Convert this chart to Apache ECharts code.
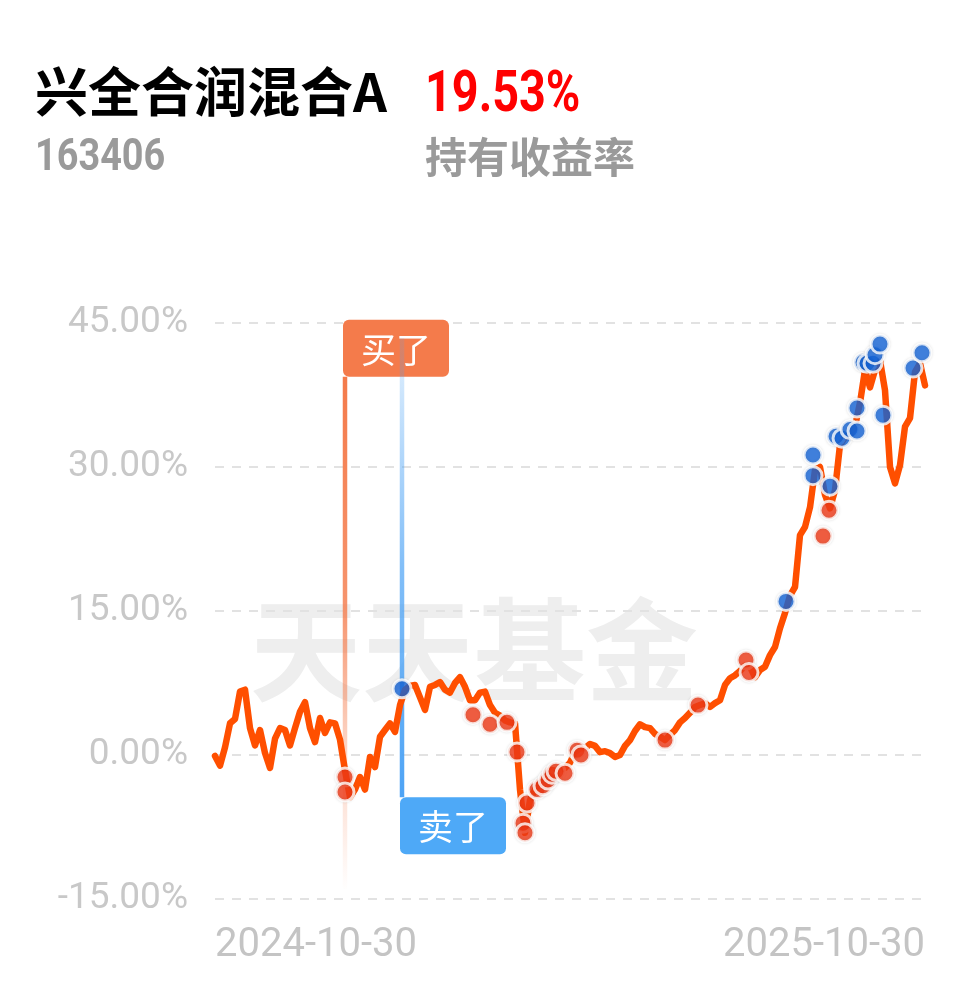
<!DOCTYPE html>
<html>
<head>
<meta charset="utf-8">
<script src="https://cdn.jsdelivr.net/npm/echarts@6/dist/echarts.min.js"></script>
<style>
html,body{margin:0;padding:0;background:#fff;}
#c{width:978px;height:986px;}
</style>
</head>
<body>
<div id="c"></div>
<script>
// ---- data ----
const tickLabels = ['2024-10-30', '2025-10-30'];
const yMin = -15, yMax = 45, yStep = 15;
const fundName = '兴全合润混合A';
const fundCode = '163406';
const holdReturn = '19.53%';
const holdReturnLabel = '持有收益率';
const watermark = '天天基金';

// cumulative return (%) per sampled trading day
const returns = [
  -0.1, -1.1, 0.8, 3.3, 3.75, 6.6, 6.8, 2.8, 1.0, 2.6,
  0.2, -1.35, 1.7, 2.8, 2.6, 1.0, 2.8, 4.5, 5.5, 2.8,
  1.35, 3.85, 2.3, 3.4, 3.3, 1.6, -1.6, -4.4, -3.6, -2.3,
  -3.6, -0.2, -1.25, 1.9, 2.6, 3.3, 2.4, 5.2, 6.8, 7.2,
  7.3, 6.0, 4.7, 7.1, 7.3, 7.6, 6.8, 6.5, 7.5, 8.1,
  7.1, 5.7, 5.7, 6.5, 6.6, 5.2, 4.4, 4.1, 3.6, 3.4,
  3.3, -3.6, -8.1, -4.7, -3.6, -2.9, -2.6, -1.8, -1.35, -1.55,
  -1.35, -0.8, 0.3, 0.7, 0.7, 1.15, 0.95, 0.3, 0.4, 0.2,
  -0.2, 0.0, 0.95, 1.55, 2.5, 3.2, 2.9, 2.8, 2.2, 1.9,
  1.55, 2.1, 2.6, 3.4, 3.85, 4.4, 5.0, 5.2, 5.4, 5.0,
  5.4, 5.7, 7.3, 8.0, 8.3, 8.75, 9.3, 9.2, 8.1, 8.85,
  9.2, 10.4, 11.25, 13.2, 14.8, 16.6, 17.5, 22.9, 23.75, 25.8,
  29.7, 30.0, 27.1, 25.7, 27.6, 32.3, 33.1, 33.3, 34.2, 36.7,
  40.1, 38.3, 40.1, 41.1, 38.0, 30.0, 28.3, 30.2, 34.2, 35.1,
  39.9, 40.8, 38.5
];

// buy points [day index, return %]
const buyPoints = [
  [26, -2.3], [26, -3.85], [51.6, 4.2], [55, 3.2], [58.4, 3.4], [60.4, 0.3],
  [62.4, -5.0], [61.6, -7.1], [62, -8.1], [64.4, -3.6], [65.6, -3.2], [66.6, -2.6],
  [67.4, -2.0], [68.2, -1.7], [70, -1.9], [72.4, 0.5], [73.2, 0.0], [90, 1.55],
  [96.6, 5.2], [106.2, 9.9], [106.8, 8.6], [121.6, 22.8], [122.8, 25.5]
];
// sell points [day index, return %]
const sellPoints = [
  [37.4, 6.9], [114.2, 16.0], [119.6, 31.25], [119.6, 29.1], [123, 28.0],
  [124.2, 33.2], [125.4, 33.0], [127, 33.9], [128.4, 33.75], [128.4, 36.15],
  [129.6, 40.9], [130.4, 40.8], [131.6, 40.8], [132, 41.7], [133, 42.8],
  [133.6, 35.4], [139.6, 40.3], [141.4, 41.9]
];
// marker flags: [day index, top value, bottom value]
const buyFlag = [26, 39.4, -14.0];
const sellFlag = [37.4, 43.4, -4.4];
const flagTexts = ['买了', '卖了'];

// ---- chart ----
const chart = echarts.init(document.getElementById('c'), null, {renderer: 'canvas'});
const lastIdx = returns.length - 1;
const lineData = returns.map((v, i) => [i, v]);

function flagSeries(flag, text, color, isBuy) {
  return {
    type: 'custom',
    z: 5,
    silent: true,
    data: [[flag[0], isBuy ? flag[1] : flag[2]]],
    renderItem: function (params, api) {
      const p = api.coord([api.value(0), api.value(1)]);
      const w = 106, h = 57;
      const x = p[0] - 2;
      const y = isBuy ? p[1] - h : p[1];
      return {
        type: 'group',
        children: [
          {type: 'rect', shape: {x: x, y: y, width: w, height: h, r: 6}, style: {fill: color}},
          {type: 'text', style: {text: text, x: x + w / 2, y: y + h / 2 + 1, align: 'center', verticalAlign: 'middle',
            fill: '#fff', fontSize: 35, fontFamily: 'Noto Sans CJK SC'}}
        ]
      };
    }
  };
}

const option = {
  animation: false,
  backgroundColor: '#fff',
  grid: {left: 215, right: 53, top: 323, bottom: 87},
  xAxis: {
    type: 'value', min: 0, max: lastIdx, interval: lastIdx,
    axisLine: {show: false}, axisTick: {show: false}, splitLine: {show: false},
    axisLabel: {
      margin: 27, color: '#c4c4c4', fontSize: 40, fontFamily: 'Roboto',
      alignMinLabel: 'left', alignMaxLabel: 'right',
      formatter: v => v === 0 ? tickLabels[0] : tickLabels[1]
    }
  },
  yAxis: {
    type: 'value', min: yMin, max: yMax, interval: yStep,
    axisLine: {show: false}, axisTick: {show: false},
    splitLine: {lineStyle: {color: '#e2e2e2', type: [9, 8], width: 2}},
    axisLabel: {margin: 27, color: '#c8c8c8', fontSize: 37, fontFamily: 'Roboto',
      formatter: v => v.toFixed(2) + '%'}
  },
  graphic: [
    {type: 'text', z: 0, left: 250, top: 594, style: {text: watermark, fontSize: 112, fontWeight: 'bold',
      fontFamily: 'Noto Sans CJK SC', fill: '#eeeeee', letterSpacing: 14}},
    {type: 'text', left: 35, top: 65, style: {text: fundName, fontSize: 53, fontWeight: 'bold',
      fontFamily: 'Noto Sans CJK SC', fill: '#000', letterSpacing: 1}},
    {type: 'text', left: 425, top: 68, scaleX: 0.82, style: {text: holdReturn, fontSize: 57, fontWeight: 'bold',
      fontFamily: 'Roboto', fill: '#f00'}},
    {type: 'text', left: 35, top: 137, scaleX: 0.86, style: {text: fundCode, fontSize: 44, fontWeight: 'bold',
      fontFamily: 'Roboto', fill: '#9a9a9a'}},
    {type: 'text', left: 425, top: 136, style: {text: holdReturnLabel, fontSize: 42, fontWeight: 'bold',
      fontFamily: 'Noto Sans CJK SC', fill: '#9a9a9a'}}
  ],
  series: [
    {
      type: 'line', z: 1, silent: true, symbol: 'none',
      data: [[buyFlag[0], buyFlag[1]], [buyFlag[0], buyFlag[2]]],
      lineStyle: {width: 4.5, color: new echarts.graphic.LinearGradient(0, 0, 0, 1, [
        {offset: 0, color: 'rgba(244,122,74,1)'},
        {offset: 0.45, color: 'rgba(244,122,74,0.8)'},
        {offset: 0.7, color: 'rgba(244,122,74,0.35)'},
        {offset: 1, color: 'rgba(244,122,74,0)'}
      ])}
    },
    {
      type: 'line', z: 6, silent: true, symbol: 'none',
      data: [[sellFlag[0], sellFlag[1]], [sellFlag[0], sellFlag[2]]],
      lineStyle: {width: 4.5, color: new echarts.graphic.LinearGradient(0, 0, 0, 1, [
        {offset: 0, color: 'rgba(77,163,245,0.15)'},
        {offset: 0.5, color: 'rgba(77,163,245,0.7)'},
        {offset: 1, color: 'rgba(77,163,245,1)'}
      ])}
    },
    flagSeries(buyFlag, flagTexts[0], '#f47b4b', true),
    flagSeries(sellFlag, flagTexts[1], '#4ea9f7', false),
    {
      type: 'line', z: 7, symbol: 'none', data: lineData,
      lineStyle: {width: 6.5, color: '#ff4f00', join: 'round', cap: 'round'}
    },
    {
      type: 'scatter', z: 8, data: buyPoints, symbolSize: 18,
      itemStyle: {color: '#f03a17', borderColor: '#fff', borderWidth: 3,
        shadowColor: 'rgba(0,0,0,0.12)', shadowBlur: 3}
    },
    {
      type: 'scatter', z: 8, data: sellPoints, symbolSize: 18,
      itemStyle: {color: '#1565d8', borderColor: '#fff', borderWidth: 3,
        shadowColor: 'rgba(0,0,0,0.12)', shadowBlur: 3}
    }
  ]
};
chart.setOption(option);
</script>
</body>
</html>
